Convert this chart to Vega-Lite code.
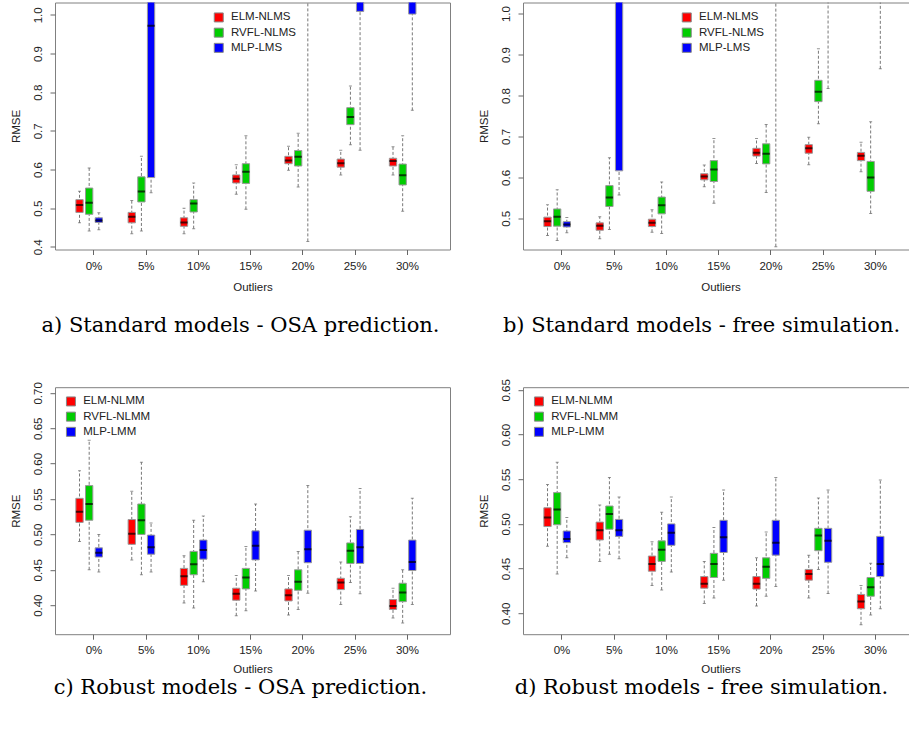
{
  "$schema": "https://vega.github.io/schema/vega-lite/v6.json",
  "background": "white",
  "padding": {"left": 10, "top": 1.5, "right": 0, "bottom": 5},
  "config": {
    "view": {"stroke": "#808080", "strokeWidth": 1},
    "axis": {"labelFont": "Liberation Sans", "titleFont": "Liberation Sans", "labelFontSize": 11.5, "titleFontSize": 11.5, "titleFontWeight": "normal", "labelColor": "#222", "titleColor": "#222", "tickColor": "#666", "domain": false, "grid": false, "tickSize": 5},
    "axisY": {"labelAngle": 270, "labelAlign": "center", "labelBaseline": "middle", "labelPadding": 11.6, "titleX": -38.5, "titleY": 123.5, "titleAngle": 270, "titleAlign": "center", "titleBaseline": "middle"},
    "axisX": {"labelAngle": 0, "labelAlign": "center", "labelBaseline": "middle", "labelPadding": 11.5, "titleX": 197.5, "titleY": 37.7, "titleAlign": "center", "titleBaseline": "middle"},
    "legend": {"orient": "none", "title": null, "symbolType": "square", "symbolSize": 81, "symbolStrokeColor": "#888", "symbolStrokeWidth": 1, "labelFont": "Liberation Sans", "labelFontSize": 11.5, "labelColor": "#222", "labelOffset": 6.5, "rowPadding": 1.2, "padding": 0},
    "title": {"orient": "bottom", "font": "DejaVu Serif", "fontSize": 21, "fontWeight": "normal", "color": "#000", "anchor": "middle", "frame": "group", "offset": 22}
  },
  "data": {"values": [
    {"panel": "a", "outliers": "0%", "model": "ELM-NLMS", "lower": 0.462, "q1": 0.489, "median": 0.508, "q3": 0.522, "upper": 0.544},
    {"panel": "a", "outliers": "0%", "model": "RVFL-NLMS", "lower": 0.441, "q1": 0.484, "median": 0.514, "q3": 0.552, "upper": 0.604},
    {"panel": "a", "outliers": "0%", "model": "MLP-LMS", "lower": 0.444, "q1": 0.463, "median": 0.468, "q3": 0.475, "upper": 0.488},
    {"panel": "a", "outliers": "5%", "model": "ELM-NLMS", "lower": 0.434, "q1": 0.462, "median": 0.478, "q3": 0.489, "upper": 0.520},
    {"panel": "a", "outliers": "5%", "model": "RVFL-NLMS", "lower": 0.441, "q1": 0.516, "median": 0.543, "q3": 0.581, "upper": 0.634},
    {"panel": "a", "outliers": "5%", "model": "MLP-LMS", "lower": 0.540, "q1": 0.579, "median": 0.972, "q3": 1.35, "upper": 1.9},
    {"panel": "a", "outliers": "10%", "model": "ELM-NLMS", "lower": 0.434, "q1": 0.453, "median": 0.463, "q3": 0.475, "upper": 0.500},
    {"panel": "a", "outliers": "10%", "model": "RVFL-NLMS", "lower": 0.447, "q1": 0.490, "median": 0.512, "q3": 0.522, "upper": 0.565},
    {"panel": "a", "outliers": "10%", "model": "MLP-LMS", "lower": 1.06, "q1": 1.2, "median": 1.35, "q3": 1.5, "upper": 1.9},
    {"panel": "a", "outliers": "15%", "model": "ELM-NLMS", "lower": 0.536, "q1": 0.565, "median": 0.576, "q3": 0.586, "upper": 0.612},
    {"panel": "a", "outliers": "15%", "model": "RVFL-NLMS", "lower": 0.497, "q1": 0.564, "median": 0.594, "q3": 0.615, "upper": 0.687},
    {"panel": "a", "outliers": "15%", "model": "MLP-LMS", "lower": 1.05, "q1": 1.25, "median": 1.4, "q3": 1.6, "upper": 2.0},
    {"panel": "a", "outliers": "20%", "model": "ELM-NLMS", "lower": 0.598, "q1": 0.615, "median": 0.623, "q3": 0.634, "upper": 0.660},
    {"panel": "a", "outliers": "20%", "model": "RVFL-NLMS", "lower": 0.555, "q1": 0.609, "median": 0.633, "q3": 0.649, "upper": 0.694},
    {"panel": "a", "outliers": "20%", "model": "MLP-LMS", "lower": 0.414, "q1": 1.1, "median": 1.3, "q3": 1.5, "upper": 2.0},
    {"panel": "a", "outliers": "25%", "model": "ELM-NLMS", "lower": 0.586, "q1": 0.606, "median": 0.616, "q3": 0.627, "upper": 0.650},
    {"panel": "a", "outliers": "25%", "model": "RVFL-NLMS", "lower": 0.664, "q1": 0.716, "median": 0.736, "q3": 0.760, "upper": 0.816},
    {"panel": "a", "outliers": "25%", "model": "MLP-LMS", "lower": 0.650, "q1": 1.009, "median": 1.2, "q3": 1.4, "upper": 1.8},
    {"panel": "a", "outliers": "30%", "model": "ELM-NLMS", "lower": 0.586, "q1": 0.609, "median": 0.622, "q3": 0.629, "upper": 0.659},
    {"panel": "a", "outliers": "30%", "model": "RVFL-NLMS", "lower": 0.492, "q1": 0.560, "median": 0.585, "q3": 0.614, "upper": 0.687},
    {"panel": "a", "outliers": "30%", "model": "MLP-LMS", "lower": 0.753, "q1": 1.002, "median": 1.15, "q3": 1.3, "upper": 1.7},

    {"panel": "b", "outliers": "0%", "model": "ELM-NLMS", "lower": 0.458, "q1": 0.480, "median": 0.493, "q3": 0.503, "upper": 0.533},
    {"panel": "b", "outliers": "0%", "model": "RVFL-NLMS", "lower": 0.446, "q1": 0.481, "median": 0.504, "q3": 0.523, "upper": 0.570},
    {"panel": "b", "outliers": "0%", "model": "MLP-LMS", "lower": 0.465, "q1": 0.479, "median": 0.485, "q3": 0.492, "upper": 0.502},
    {"panel": "b", "outliers": "5%", "model": "ELM-NLMS", "lower": 0.450, "q1": 0.471, "median": 0.482, "q3": 0.489, "upper": 0.504},
    {"panel": "b", "outliers": "5%", "model": "RVFL-NLMS", "lower": 0.473, "q1": 0.529, "median": 0.551, "q3": 0.580, "upper": 0.648},
    {"panel": "b", "outliers": "5%", "model": "MLP-LMS", "lower": 0.557, "q1": 0.616, "median": 1.1, "q3": 1.3, "upper": 1.7},
    {"panel": "b", "outliers": "10%", "model": "ELM-NLMS", "lower": 0.466, "q1": 0.480, "median": 0.489, "q3": 0.498, "upper": 0.521},
    {"panel": "b", "outliers": "10%", "model": "RVFL-NLMS", "lower": 0.463, "q1": 0.511, "median": 0.532, "q3": 0.552, "upper": 0.589},
    {"panel": "b", "outliers": "10%", "model": "MLP-LMS", "lower": 1.05, "q1": 1.2, "median": 1.35, "q3": 1.5, "upper": 1.9},
    {"panel": "b", "outliers": "15%", "model": "ELM-NLMS", "lower": 0.577, "q1": 0.594, "median": 0.602, "q3": 0.609, "upper": 0.630},
    {"panel": "b", "outliers": "15%", "model": "RVFL-NLMS", "lower": 0.537, "q1": 0.590, "median": 0.619, "q3": 0.641, "upper": 0.695},
    {"panel": "b", "outliers": "15%", "model": "MLP-LMS", "lower": 1.05, "q1": 1.25, "median": 1.4, "q3": 1.6, "upper": 2.0},
    {"panel": "b", "outliers": "20%", "model": "ELM-NLMS", "lower": 0.634, "q1": 0.652, "median": 0.660, "q3": 0.671, "upper": 0.695},
    {"panel": "b", "outliers": "20%", "model": "RVFL-NLMS", "lower": 0.563, "q1": 0.633, "median": 0.658, "q3": 0.682, "upper": 0.729},
    {"panel": "b", "outliers": "20%", "model": "MLP-LMS", "lower": 0.431, "q1": 1.1, "median": 1.3, "q3": 1.5, "upper": 2.0},
    {"panel": "b", "outliers": "25%", "model": "ELM-NLMS", "lower": 0.631, "q1": 0.659, "median": 0.671, "q3": 0.680, "upper": 0.698},
    {"panel": "b", "outliers": "25%", "model": "RVFL-NLMS", "lower": 0.731, "q1": 0.785, "median": 0.809, "q3": 0.837, "upper": 0.914},
    {"panel": "b", "outliers": "25%", "model": "MLP-LMS", "lower": 0.817, "q1": 1.1, "median": 1.3, "q3": 1.5, "upper": 1.9},
    {"panel": "b", "outliers": "30%", "model": "ELM-NLMS", "lower": 0.614, "q1": 0.641, "median": 0.653, "q3": 0.661, "upper": 0.686},
    {"panel": "b", "outliers": "30%", "model": "RVFL-NLMS", "lower": 0.512, "q1": 0.566, "median": 0.600, "q3": 0.639, "upper": 0.736},
    {"panel": "b", "outliers": "30%", "model": "MLP-LMS", "lower": 0.865, "q1": 1.1, "median": 1.3, "q3": 1.5, "upper": 1.9},

    {"panel": "c", "outliers": "0%", "model": "ELM-NLMM", "lower": 0.490, "q1": 0.517, "median": 0.532, "q3": 0.551, "upper": 0.590},
    {"panel": "c", "outliers": "0%", "model": "RVFL-NLMM", "lower": 0.450, "q1": 0.520, "median": 0.543, "q3": 0.569, "upper": 0.633},
    {"panel": "c", "outliers": "0%", "model": "MLP-LMM", "lower": 0.447, "q1": 0.468, "median": 0.474, "q3": 0.481, "upper": 0.500},
    {"panel": "c", "outliers": "5%", "model": "ELM-NLMM", "lower": 0.464, "q1": 0.486, "median": 0.501, "q3": 0.521, "upper": 0.561},
    {"panel": "c", "outliers": "5%", "model": "RVFL-NLMM", "lower": 0.443, "q1": 0.500, "median": 0.520, "q3": 0.543, "upper": 0.602},
    {"panel": "c", "outliers": "5%", "model": "MLP-LMM", "lower": 0.447, "q1": 0.472, "median": 0.482, "q3": 0.499, "upper": 0.516},
    {"panel": "c", "outliers": "10%", "model": "ELM-NLMM", "lower": 0.403, "q1": 0.428, "median": 0.441, "q3": 0.452, "upper": 0.470},
    {"panel": "c", "outliers": "10%", "model": "RVFL-NLMM", "lower": 0.396, "q1": 0.443, "median": 0.458, "q3": 0.476, "upper": 0.520},
    {"panel": "c", "outliers": "10%", "model": "MLP-LMM", "lower": 0.433, "q1": 0.465, "median": 0.478, "q3": 0.492, "upper": 0.526},
    {"panel": "c", "outliers": "15%", "model": "ELM-NLMM", "lower": 0.385, "q1": 0.407, "median": 0.416, "q3": 0.424, "upper": 0.442},
    {"panel": "c", "outliers": "15%", "model": "RVFL-NLMM", "lower": 0.392, "q1": 0.423, "median": 0.439, "q3": 0.452, "upper": 0.483},
    {"panel": "c", "outliers": "15%", "model": "MLP-LMM", "lower": 0.420, "q1": 0.464, "median": 0.484, "q3": 0.505, "upper": 0.543},
    {"panel": "c", "outliers": "20%", "model": "ELM-NLMM", "lower": 0.386, "q1": 0.406, "median": 0.414, "q3": 0.423, "upper": 0.442},
    {"panel": "c", "outliers": "20%", "model": "RVFL-NLMM", "lower": 0.394, "q1": 0.421, "median": 0.433, "q3": 0.450, "upper": 0.476},
    {"panel": "c", "outliers": "20%", "model": "MLP-LMM", "lower": 0.417, "q1": 0.460, "median": 0.479, "q3": 0.506, "upper": 0.569},
    {"panel": "c", "outliers": "25%", "model": "ELM-NLMM", "lower": 0.401, "q1": 0.422, "median": 0.432, "q3": 0.438, "upper": 0.461},
    {"panel": "c", "outliers": "25%", "model": "RVFL-NLMM", "lower": 0.432, "q1": 0.459, "median": 0.477, "q3": 0.488, "upper": 0.525},
    {"panel": "c", "outliers": "25%", "model": "MLP-LMM", "lower": 0.416, "q1": 0.459, "median": 0.482, "q3": 0.507, "upper": 0.565},
    {"panel": "c", "outliers": "30%", "model": "ELM-NLMM", "lower": 0.382, "q1": 0.394, "median": 0.399, "q3": 0.408, "upper": 0.424},
    {"panel": "c", "outliers": "30%", "model": "RVFL-NLMM", "lower": 0.375, "q1": 0.405, "median": 0.418, "q3": 0.431, "upper": 0.450},
    {"panel": "c", "outliers": "30%", "model": "MLP-LMM", "lower": 0.401, "q1": 0.449, "median": 0.461, "q3": 0.492, "upper": 0.551},

    {"panel": "d", "outliers": "0%", "model": "ELM-NLMM", "lower": 0.475, "q1": 0.497, "median": 0.507, "q3": 0.518, "upper": 0.544},
    {"panel": "d", "outliers": "0%", "model": "RVFL-NLMM", "lower": 0.444, "q1": 0.499, "median": 0.516, "q3": 0.535, "upper": 0.569},
    {"panel": "d", "outliers": "0%", "model": "MLP-LMM", "lower": 0.462, "q1": 0.479, "median": 0.483, "q3": 0.492, "upper": 0.507},
    {"panel": "d", "outliers": "5%", "model": "ELM-NLMM", "lower": 0.458, "q1": 0.482, "median": 0.493, "q3": 0.502, "upper": 0.521},
    {"panel": "d", "outliers": "5%", "model": "RVFL-NLMM", "lower": 0.466, "q1": 0.494, "median": 0.511, "q3": 0.520, "upper": 0.552},
    {"panel": "d", "outliers": "5%", "model": "MLP-LMM", "lower": 0.461, "q1": 0.486, "median": 0.493, "q3": 0.505, "upper": 0.530},
    {"panel": "d", "outliers": "10%", "model": "ELM-NLMM", "lower": 0.431, "q1": 0.447, "median": 0.455, "q3": 0.464, "upper": 0.480},
    {"panel": "d", "outliers": "10%", "model": "RVFL-NLMM", "lower": 0.426, "q1": 0.458, "median": 0.471, "q3": 0.481, "upper": 0.513},
    {"panel": "d", "outliers": "10%", "model": "MLP-LMM", "lower": 0.446, "q1": 0.476, "median": 0.490, "q3": 0.500, "upper": 0.530},
    {"panel": "d", "outliers": "15%", "model": "ELM-NLMM", "lower": 0.411, "q1": 0.428, "median": 0.433, "q3": 0.441, "upper": 0.458},
    {"panel": "d", "outliers": "15%", "model": "RVFL-NLMM", "lower": 0.417, "q1": 0.440, "median": 0.455, "q3": 0.467, "upper": 0.496},
    {"panel": "d", "outliers": "15%", "model": "MLP-LMM", "lower": 0.437, "q1": 0.468, "median": 0.485, "q3": 0.504, "upper": 0.538},
    {"panel": "d", "outliers": "20%", "model": "ELM-NLMM", "lower": 0.408, "q1": 0.427, "median": 0.433, "q3": 0.441, "upper": 0.462},
    {"panel": "d", "outliers": "20%", "model": "RVFL-NLMM", "lower": 0.419, "q1": 0.439, "median": 0.452, "q3": 0.462, "upper": 0.491},
    {"panel": "d", "outliers": "20%", "model": "MLP-LMM", "lower": 0.430, "q1": 0.465, "median": 0.479, "q3": 0.504, "upper": 0.552},
    {"panel": "d", "outliers": "25%", "model": "ELM-NLMM", "lower": 0.417, "q1": 0.437, "median": 0.444, "q3": 0.449, "upper": 0.465},
    {"panel": "d", "outliers": "25%", "model": "RVFL-NLMM", "lower": 0.449, "q1": 0.470, "median": 0.487, "q3": 0.495, "upper": 0.529},
    {"panel": "d", "outliers": "25%", "model": "MLP-LMM", "lower": 0.422, "q1": 0.457, "median": 0.481, "q3": 0.495, "upper": 0.538},
    {"panel": "d", "outliers": "30%", "model": "ELM-NLMM", "lower": 0.387, "q1": 0.405, "median": 0.413, "q3": 0.421, "upper": 0.431},
    {"panel": "d", "outliers": "30%", "model": "RVFL-NLMM", "lower": 0.398, "q1": 0.419, "median": 0.429, "q3": 0.440, "upper": 0.456},
    {"panel": "d", "outliers": "30%", "model": "MLP-LMM", "lower": 0.405, "q1": 0.441, "median": 0.455, "q3": 0.486, "upper": 0.549}
  ]},
  "columns": 2,
  "bounds": "flush",
  "spacing": {"row": 137.7, "column": 73},
  "resolve": {"scale": {"color": "independent", "xOffset": "independent"}, "legend": {"color": "independent"}},
  "concat": [
    {
      "width": 395, "height": 247,
      "title": {"text": "a) Standard models - OSA prediction.", "dx": -12},
      "transform": [{"filter": "datum.panel == 'a'"}],
      "encoding": {
        "x": {"field": "outliers", "type": "nominal", "title": "Outliers", "sort": null, "scale": {"domain": ["0%","5%","10%","15%","20%","25%","30%"], "paddingInner": 0, "paddingOuter": 0.28, "align": 0.44}},
        "xOffset": {"field": "model", "type": "nominal", "sort": null, "scale": {"domain": ["ELM-NLMS","RVFL-NLMS","MLP-LMS","_"], "paddingInner": 0.243, "paddingOuter": 0.828}}
      },
      "layer": [
        {"mark": {"type": "rule", "clip": true, "color": "#777", "strokeDash": [3, 2]}, "encoding": {"y": {"field": "lower", "type": "quantitative", "title": "RMSE", "scale": {"domain": [0.393, 1.032], "nice": false, "zero": false}, "axis": {"values": [0.4, 0.5, 0.6, 0.7, 0.8, 0.9, 1.0], "format": ".1f"}}, "y2": {"field": "upper"}}},
        {"mark": {"type": "bar", "clip": true, "stroke": "#999", "strokeWidth": 1}, "encoding": {"y": {"field": "q1", "type": "quantitative", "title": "RMSE", "scale": {"domain": [0.393, 1.032], "nice": false, "zero": false}}, "y2": {"field": "q3"}, "color": {"field": "model", "type": "nominal", "scale": {"domain": ["ELM-NLMS","RVFL-NLMS","MLP-LMS"], "range": ["#FF0000","#00CD00","#0000FF"]}, "legend": {"legendX": 158, "legendY": 9.2}}}},
        {"mark": {"type": "tick", "clip": true, "color": "#000", "thickness": 2, "size": 7.3}, "encoding": {"y": {"field": "median", "type": "quantitative", "title": "RMSE", "scale": {"domain": [0.393, 1.032], "nice": false, "zero": false}}}},
        {"mark": {"type": "tick", "clip": true, "color": "#666", "thickness": 1, "size": 3}, "encoding": {"y": {"field": "lower", "type": "quantitative", "title": "RMSE", "scale": {"domain": [0.393, 1.032], "nice": false, "zero": false}}}},
        {"mark": {"type": "tick", "clip": true, "color": "#666", "thickness": 1, "size": 3}, "encoding": {"y": {"field": "upper", "type": "quantitative", "title": "RMSE", "scale": {"domain": [0.393, 1.032], "nice": false, "zero": false}}}}
      ]
    },
    {
      "width": 395, "height": 247,
      "title": {"text": "b) Standard models - free simulation.", "dx": -19},
      "transform": [{"filter": "datum.panel == 'b'"}],
      "encoding": {
        "x": {"field": "outliers", "type": "nominal", "title": "Outliers", "sort": null, "scale": {"domain": ["0%","5%","10%","15%","20%","25%","30%"], "paddingInner": 0, "paddingOuter": 0.28, "align": 0.44}},
        "xOffset": {"field": "model", "type": "nominal", "sort": null, "scale": {"domain": ["ELM-NLMS","RVFL-NLMS","MLP-LMS","_"], "paddingInner": 0.243, "paddingOuter": 0.828}}
      },
      "layer": [
        {"mark": {"type": "rule", "clip": true, "color": "#777", "strokeDash": [3, 2]}, "encoding": {"y": {"field": "lower", "type": "quantitative", "title": "RMSE", "scale": {"domain": [0.424, 1.027], "nice": false, "zero": false}, "axis": {"values": [0.5, 0.6, 0.7, 0.8, 0.9, 1.0], "format": ".1f"}}, "y2": {"field": "upper"}}},
        {"mark": {"type": "bar", "clip": true, "stroke": "#999", "strokeWidth": 1}, "encoding": {"y": {"field": "q1", "type": "quantitative", "title": "RMSE", "scale": {"domain": [0.424, 1.027], "nice": false, "zero": false}}, "y2": {"field": "q3"}, "color": {"field": "model", "type": "nominal", "scale": {"domain": ["ELM-NLMS","RVFL-NLMS","MLP-LMS"], "range": ["#FF0000","#00CD00","#0000FF"]}, "legend": {"legendX": 158, "legendY": 9.2}}}},
        {"mark": {"type": "tick", "clip": true, "color": "#000", "thickness": 2, "size": 7.3}, "encoding": {"y": {"field": "median", "type": "quantitative", "title": "RMSE", "scale": {"domain": [0.424, 1.027], "nice": false, "zero": false}}}},
        {"mark": {"type": "tick", "clip": true, "color": "#666", "thickness": 1, "size": 3}, "encoding": {"y": {"field": "lower", "type": "quantitative", "title": "RMSE", "scale": {"domain": [0.424, 1.027], "nice": false, "zero": false}}}},
        {"mark": {"type": "tick", "clip": true, "color": "#666", "thickness": 1, "size": 3}, "encoding": {"y": {"field": "upper", "type": "quantitative", "title": "RMSE", "scale": {"domain": [0.424, 1.027], "nice": false, "zero": false}}}}
      ]
    },
    {
      "width": 395, "height": 247,
      "title": {"text": "c) Robust models - OSA prediction.", "dx": -12, "offset": 2},
      "transform": [{"filter": "datum.panel == 'c'"}],
      "encoding": {
        "x": {"field": "outliers", "type": "nominal", "title": "Outliers", "sort": null, "axis": {"titleY": 35}, "scale": {"domain": ["0%","5%","10%","15%","20%","25%","30%"], "paddingInner": 0, "paddingOuter": 0.28, "align": 0.44}},
        "xOffset": {"field": "model", "type": "nominal", "sort": null, "scale": {"domain": ["ELM-NLMM","RVFL-NLMM","MLP-LMM","_"], "paddingInner": 0.243, "paddingOuter": 0.828}}
      },
      "layer": [
        {"mark": {"type": "rule", "clip": true, "color": "#777", "strokeDash": [3, 2]}, "encoding": {"y": {"field": "lower", "type": "quantitative", "title": "RMSE", "scale": {"domain": [0.359, 0.708], "nice": false, "zero": false}, "axis": {"values": [0.4, 0.45, 0.5, 0.55, 0.6, 0.65, 0.7], "format": ".2f"}}, "y2": {"field": "upper"}}},
        {"mark": {"type": "bar", "clip": true, "stroke": "#999", "strokeWidth": 1}, "encoding": {"y": {"field": "q1", "type": "quantitative", "title": "RMSE", "scale": {"domain": [0.359, 0.708], "nice": false, "zero": false}}, "y2": {"field": "q3"}, "color": {"field": "model", "type": "nominal", "scale": {"domain": ["ELM-NLMM","RVFL-NLMM","MLP-LMM"], "range": ["#FF0000","#00CD00","#0000FF"]}, "legend": {"legendX": 10.2, "legendY": 8.5}}}},
        {"mark": {"type": "tick", "clip": true, "color": "#000", "thickness": 2, "size": 7.3}, "encoding": {"y": {"field": "median", "type": "quantitative", "title": "RMSE", "scale": {"domain": [0.359, 0.708], "nice": false, "zero": false}}}},
        {"mark": {"type": "tick", "clip": true, "color": "#666", "thickness": 1, "size": 3}, "encoding": {"y": {"field": "lower", "type": "quantitative", "title": "RMSE", "scale": {"domain": [0.359, 0.708], "nice": false, "zero": false}}}},
        {"mark": {"type": "tick", "clip": true, "color": "#666", "thickness": 1, "size": 3}, "encoding": {"y": {"field": "upper", "type": "quantitative", "title": "RMSE", "scale": {"domain": [0.359, 0.708], "nice": false, "zero": false}}}}
      ]
    },
    {
      "width": 395, "height": 247,
      "title": {"text": "d) Robust models - free simulation.", "dx": -19, "offset": 2},
      "transform": [{"filter": "datum.panel == 'd'"}],
      "encoding": {
        "x": {"field": "outliers", "type": "nominal", "title": "Outliers", "sort": null, "axis": {"titleY": 35}, "scale": {"domain": ["0%","5%","10%","15%","20%","25%","30%"], "paddingInner": 0, "paddingOuter": 0.28, "align": 0.44}},
        "xOffset": {"field": "model", "type": "nominal", "sort": null, "scale": {"domain": ["ELM-NLMM","RVFL-NLMM","MLP-LMM","_"], "paddingInner": 0.243, "paddingOuter": 0.828}}
      },
      "layer": [
        {"mark": {"type": "rule", "clip": true, "color": "#777", "strokeDash": [3, 2]}, "encoding": {"y": {"field": "lower", "type": "quantitative", "title": "RMSE", "scale": {"domain": [0.3765, 0.653], "nice": false, "zero": false}, "axis": {"values": [0.4, 0.45, 0.5, 0.55, 0.6, 0.65], "format": ".2f"}}, "y2": {"field": "upper"}}},
        {"mark": {"type": "bar", "clip": true, "stroke": "#999", "strokeWidth": 1}, "encoding": {"y": {"field": "q1", "type": "quantitative", "title": "RMSE", "scale": {"domain": [0.3765, 0.653], "nice": false, "zero": false}}, "y2": {"field": "q3"}, "color": {"field": "model", "type": "nominal", "scale": {"domain": ["ELM-NLMM","RVFL-NLMM","MLP-LMM"], "range": ["#FF0000","#00CD00","#0000FF"]}, "legend": {"legendX": 10.2, "legendY": 8.5}}}},
        {"mark": {"type": "tick", "clip": true, "color": "#000", "thickness": 2, "size": 7.3}, "encoding": {"y": {"field": "median", "type": "quantitative", "title": "RMSE", "scale": {"domain": [0.3765, 0.653], "nice": false, "zero": false}}}},
        {"mark": {"type": "tick", "clip": true, "color": "#666", "thickness": 1, "size": 3}, "encoding": {"y": {"field": "lower", "type": "quantitative", "title": "RMSE", "scale": {"domain": [0.3765, 0.653], "nice": false, "zero": false}}}},
        {"mark": {"type": "tick", "clip": true, "color": "#666", "thickness": 1, "size": 3}, "encoding": {"y": {"field": "upper", "type": "quantitative", "title": "RMSE", "scale": {"domain": [0.3765, 0.653], "nice": false, "zero": false}}}}
      ]
    }
  ]
}
